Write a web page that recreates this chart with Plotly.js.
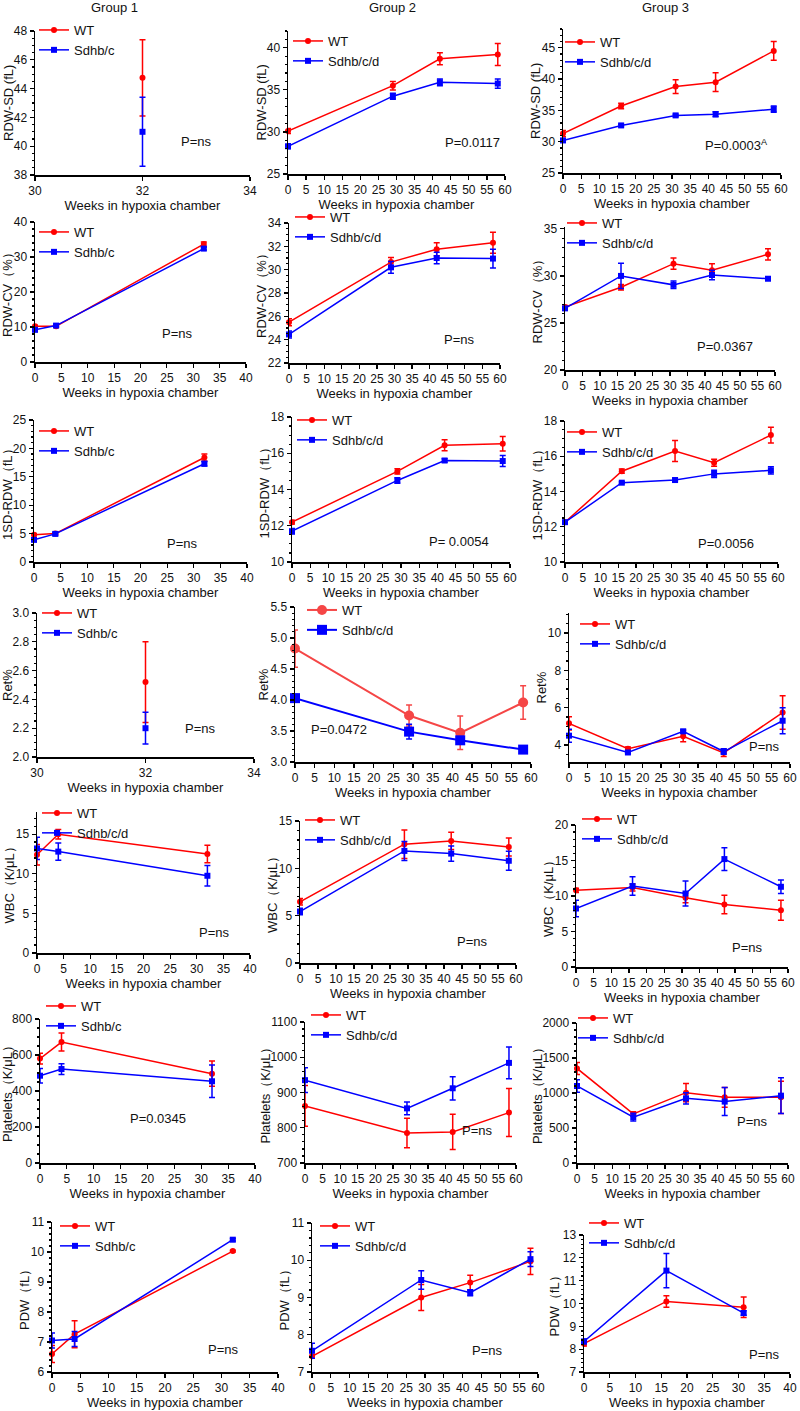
<!DOCTYPE html>
<html>
<head>
<meta charset="utf-8">
<script src="https://cdn.plot.ly/plotly-3.0.1.min.js"></script>
<style>body{margin:0;background:#fff}#chart{width:800px;height:1411px}</style>
</head>
<body>
<div id="chart"></div>
<script>
// weeks in hypoxia chamber
var weeksG1 = [0, 4, 32];
var weeksG1b = [32];
var weeksG2 = [0, 29, 42, 58];
var weeksG3 = [0, 16, 31, 42, 58];
var weeksG3pdw = [0, 16, 31];

// RDW-SD (fL)
var rdwsdG1Wt = [44.75], rdwsdG1WtErr = [2.65];
var rdwsdG1Mut = [41.0], rdwsdG1MutErr = [2.4];
var rdwsdG2Wt = [30.1, 35.5, 38.7, 39.2], rdwsdG2WtErr = [0.3, 0.5, 0.7, 1.3];
var rdwsdG2Mut = [28.3, 34.25, 35.9, 35.75], rdwsdG2MutErr = [0.3, 0.35, 0.4, 0.55];
var rdwsdG3Wt = [31.3, 35.7, 38.8, 39.5, 44.5], rdwsdG3WtErr = [0.5, 0.45, 1.1, 1.5, 1.5];
var rdwsdG3Mut = [30.2, 32.6, 34.2, 34.4, 35.2], rdwsdG3MutErr = [0.2, 0.2, 0.2, 0.4, 0.5];

// RDW-CV (%)
var rdwcvG1Wt = [10.2, 10.2, 33.7], rdwcvG1WtErr = [0.3, 0.3, 0.6];
var rdwcvG1Mut = [9.2, 10.4, 32.4], rdwcvG1MutErr = [0.5, 0.4, 0.4];
var rdwcvG2Wt = [25.5, 30.65, 31.75, 32.3], rdwcvG2WtErr = [0.3, 0.4, 0.55, 0.9];
var rdwcvG2Mut = [24.45, 30.2, 31.0, 30.95], rdwcvG2MutErr = [0.3, 0.5, 0.5, 0.8];
var rdwcvG3Wt = [26.7, 28.8, 31.3, 30.6, 32.3], rdwcvG3WtErr = [0.15, 0.3, 0.6, 0.7, 0.6];
var rdwcvG3Mut = [26.55, 30.0, 29.05, 30.1, 29.7], rdwcvG3MutErr = [0.15, 1.35, 0.4, 0.5, 0.15];

// 1SD-RDW (fL)
var sdrdwG1Wt = [4.8, 5.0, 18.4], sdrdwG1WtErr = [0.2, 0.15, 0.6];
var sdrdwG1Mut = [3.9, 4.95, 17.3], sdrdwG1MutErr = [0.3, 0.3, 0.4];
var sdrdwG2Wt = [12.2, 15.0, 16.44, 16.53], sdrdwG2WtErr = [0.1, 0.15, 0.3, 0.4];
var sdrdwG2Mut = [11.7, 14.5, 15.6, 15.57], sdrdwG2MutErr = [0.15, 0.15, 0.1, 0.3];
var sdrdwG3Wt = [12.26, 15.15, 16.3, 15.63, 17.2], sdrdwG3WtErr = [0.05, 0.12, 0.6, 0.2, 0.45];
var sdrdwG3Mut = [12.26, 14.5, 14.65, 15.0, 15.2], sdrdwG3MutErr = [0.05, 0.05, 0.1, 0.2, 0.2];

// Ret%
var retG1Wt = [2.52], retG1WtErr = [0.28];
var retG1Mut = [2.2], retG1MutErr = [0.11];
var retG2Wt = [4.83, 3.75, 3.47, 3.96], retG2WtErr = [0.3, 0.17, 0.27, 0.27];
var retG2Mut = [4.03, 3.49, 3.35, 3.2], retG2MutErr = [0.06, 0.12, 0.05, 0.03];
var retG3Wt = [5.16, 3.8, 4.47, 3.58, 5.74], retG3WtErr = [0.35, 0.1, 0.3, 0.2, 0.9];
var retG3Mut = [4.5, 3.6, 4.73, 3.65, 5.3], retG3MutErr = [0.35, 0.05, 0.1, 0.15, 0.7];

// WBC (K/uL)
var wbcG1Wt = [12.4, 15.0, 12.5], wbcG1WtErr = [1.3, 0.6, 1.1];
var wbcG1Mut = [13.2, 12.8, 9.75], wbcG1MutErr = [1.4, 1.1, 1.3];
var wbcG2Wt = [6.47, 12.55, 12.9, 12.26], wbcG2WtErr = [0.35, 1.5, 0.9, 0.95];
var wbcG2Mut = [5.44, 11.84, 11.56, 10.8], wbcG2MutErr = [0.35, 1.0, 0.8, 1.0];
var wbcG3Wt = [10.8, 11.2, 9.74, 8.8, 8.0], wbcG3WtErr = [0.3, 0.5, 0.7, 1.3, 1.4];
var wbcG3Mut = [8.24, 11.4, 10.35, 15.2, 11.3], wbcG3MutErr = [1.15, 1.3, 1.75, 1.6, 0.95];

// Platelets (K/uL)
var pltG1Wt = [580, 672, 496], pltG1WtErr = [30, 50, 70];
var pltG1Mut = [485, 522, 454], pltG1MutErr = [40, 30, 90];
var pltG2Wt = [862, 785, 788, 843], pltG2WtErr = [58, 42, 50, 68];
var pltG2Mut = [935, 855, 912, 984], pltG2MutErr = [35, 18, 33, 45];
var pltG3Wt = [1351, 701, 1005, 938, 938], pltG3WtErr = [85, 30, 130, 140, 230];
var pltG3Mut = [1100, 654, 924, 877, 962], pltG3MutErr = [90, 55, 80, 200, 255];

// PDW (fL)
var pdwG1Wt = [6.6, 7.26, 10.03], pdwG1WtErr = [0.28, 0.45, 0.03];
var pdwG1Mut = [7.05, 7.1, 10.41], pdwG1MutErr = [0.25, 0.25, 0.04];
var pdwG2Wt = [7.42, 9.0, 9.4, 9.97], pdwG2WtErr = [0.05, 0.35, 0.2, 0.35];
var pdwG2Mut = [7.57, 9.47, 9.13, 10.03], pdwG2MutErr = [0.2, 0.25, 0.08, 0.2];
var pdwG3Wt = [8.24, 10.09, 9.84], pdwG3WtErr = [0.1, 0.25, 0.45];
var pdwG3Mut = [8.34, 11.44, 9.58], pdwG3MutErr = [0.1, 0.75, 0.1];

var groupNames = ['Group 1', 'Group 2', 'Group 3'];
var pValues = [
  'P=ns', 'P=0.0117', 'P=0.0003<sup>A</sup>',
  'P=ns', 'P=ns', 'P=0.0367',
  'P=ns', 'P= 0.0054', 'P=0.0056',
  'P=ns', 'P=0.0472', 'P=ns',
  'P=ns', 'P=ns', 'P=ns',
  'P=0.0345', 'P=ns', 'P=ns',
  'P=ns', 'P=ns', 'P=ns'
];
var xTitle = 'Weeks in hypoxia chamber';

var W = 800, H = 1411;
var red = 'rgb(255,0,0)', blue = 'rgb(0,0,255)';

// box = [left, right, top, bottom] px, tx = y title centre px, leg = legend first row px, pp = p-value spot (data)
var panels = [
  {x: weeksG1b, wt: rdwsdG1Wt, we: rdwsdG1WtErr, mu: rdwsdG1Mut, me: rdwsdG1MutErr, mn: 'Sdhb/c', yt: 'RDW-SD (fL)',
   box: [35, 250, 31, 175], tx: 8, xr: [30, 34], xd: 2, yr: [38, 48], yd: 2, leg: [48, 31], pp: [33.0, 40.3]},
  {x: weeksG2, wt: rdwsdG2Wt, we: rdwsdG2WtErr, mu: rdwsdG2Mut, me: rdwsdG2MutErr, mn: 'Sdhb/c/d', yt: 'RDW-SD (fL)',
   box: [288, 505, 31, 174], tx: 261, xr: [0, 60], xd: 5, yr: [25, 42], yd: 5, leg: [302, 42], pp: [51, 28.75]},
  {x: weeksG3, wt: rdwsdG3Wt, we: rdwsdG3WtErr, mu: rdwsdG3Mut, me: rdwsdG3MutErr, mn: 'Sdhb/c/d', yt: 'RDW-SD (fL)',
   box: [563, 781, 29, 173], tx: 536, xr: [0, 60], xd: 5, yr: [25, 48], yd: 5, leg: [574, 43], pp: [47.8, 29.5]},

  {x: weeksG1, wt: rdwcvG1Wt, we: rdwcvG1WtErr, mu: rdwcvG1Mut, me: rdwcvG1MutErr, mn: 'Sdhb/c', yt: 'RDW-CV（%）',
   box: [35, 246, 222, 362], tx: 7, xr: [0, 40], xd: 5, yr: [0, 40], yd: 10, leg: [48, 233], pp: [27, 8.1]},
  {x: weeksG2, wt: rdwcvG2Wt, we: rdwcvG2WtErr, mu: rdwcvG2Mut, me: rdwcvG2MutErr, mn: 'Sdhb/c/d', yt: 'RDW-CV（%）',
   box: [289, 500, 223, 363], tx: 261, xr: [0, 60], xd: 5, yr: [22, 34], yd: 2, leg: [304, 218], pp: [48.4, 24]},
  {x: weeksG3, wt: rdwcvG3Wt, we: rdwcvG3WtErr, mu: rdwcvG3Mut, me: rdwcvG3MutErr, mn: 'Sdhb/c/d', yt: 'RDW-CV（%）',
   box: [565, 775, 227, 370], tx: 537, xr: [0, 60], xd: 5, yr: [20, 35.2], yd: 5, leg: [576, 224], pp: [45.8, 22.5]},

  {x: weeksG1, wt: sdrdwG1Wt, we: sdrdwG1WtErr, mu: sdrdwG1Mut, me: sdrdwG1MutErr, mn: 'Sdhb/c', yt: '1SD-RDW（fL）',
   box: [34, 247, 420, 562], tx: 7, xr: [0, 40], xd: 5, yr: [0, 25], yd: 5, leg: [48, 432], pp: [27.8, 3.3]},
  {x: weeksG2, wt: sdrdwG2Wt, we: sdrdwG2WtErr, mu: sdrdwG2Mut, me: sdrdwG2MutErr, mn: 'Sdhb/c/d', yt: '1SD-RDW（fL）',
   box: [292, 510, 417, 562], tx: 264, xr: [0, 60], xd: 5, yr: [10, 18], yd: 2, leg: [306, 421], pp: [46, 11.15]},
  {x: weeksG3, wt: sdrdwG3Wt, we: sdrdwG3WtErr, mu: sdrdwG3Mut, me: sdrdwG3MutErr, mn: 'Sdhb/c/d', yt: '1SD-RDW（fL）',
   box: [565, 778, 421, 562], tx: 537, xr: [0, 60], xd: 5, yr: [10, 18], yd: 2, leg: [576, 433], pp: [45.3, 11.07]},

  {x: weeksG1b, wt: retG1Wt, we: retG1WtErr, mu: retG1Mut, me: retG1MutErr, mn: 'Sdhb/c', yt: 'Ret%',
   box: [37, 254, 613, 757], tx: 8, xr: [30, 34], xd: 2, yr: [2, 3], yd: 0.2, fmt: '.1f', leg: [51, 614], pp: [33.0, 2.2]},
  {x: weeksG2, wt: retG2Wt, we: retG2WtErr, mu: retG2Mut, me: retG2MutErr, mn: 'Sdhb/c/d', yt: 'Ret%',
   box: [295, 531, 607, 762], tx: 263, xr: [0, 60], xd: 5, yr: [3, 5.5], yd: 0.5, fmt: '.1f', leg: [316, 611], pp: [11.3, 3.53], big: true},
  {x: weeksG3, wt: retG3Wt, we: retG3WtErr, mu: retG3Mut, me: retG3MutErr, mn: 'Sdhb/c/d', yt: 'Ret%',
   box: [569, 790, 613, 762], tx: 541, xr: [0, 60], xd: 5, yr: [3.09, 11.07], yd: 2, leg: [589, 625], pp: [53, 3.94]},

  {x: weeksG1, wt: wbcG1Wt, we: wbcG1WtErr, mu: wbcG1Mut, me: wbcG1MutErr, mn: 'Sdhb/c/d', yt: 'WBC（K/μL）',
   box: [37, 250, 812, 953], tx: 9, xr: [0, 40], xd: 5, yr: [0, 17.8], yd: 5, leg: [51, 814], pp: [33.3, 2.6]},
  {x: weeksG2, wt: wbcG2Wt, we: wbcG2WtErr, mu: wbcG2Mut, me: wbcG2MutErr, mn: 'Sdhb/c/d', yt: 'WBC（K/μL）',
   box: [300, 516, 821, 963], tx: 272, xr: [0, 60], xd: 5, yr: [0, 15], yd: 5, leg: [314, 821], pp: [47.7, 2.28]},
  {x: weeksG3, wt: wbcG3Wt, we: wbcG3WtErr, mu: wbcG3Mut, me: wbcG3MutErr, mn: 'Sdhb/c/d', yt: 'WBC（K/μL）',
   box: [576, 788, 825, 967], tx: 548, xr: [0, 60], xd: 5, yr: [0, 20], yd: 5, leg: [591, 820], pp: [48.5, 2.8]},

  {x: weeksG1, wt: pltG1Wt, we: pltG1WtErr, mu: pltG1Mut, me: pltG1MutErr, mn: 'Sdhb/c', yt: 'Platelets（K/μL）',
   box: [40, 255, 1019, 1163], tx: 7, xr: [0, 40], xd: 5, yr: [0, 800], yd: 200, leg: [55, 1007], pp: [22, 250]},
  {x: weeksG2, wt: pltG2Wt, we: pltG2WtErr, mu: pltG2Mut, me: pltG2MutErr, mn: 'Sdhb/c/d', yt: 'Platelets（K/μL）',
   box: [305, 516, 1022, 1163], tx: 265, xr: [0, 60], xd: 5, yr: [700, 1100], yd: 100, leg: [320, 1016], pp: [48.8, 792]},
  {x: weeksG3, wt: pltG3Wt, we: pltG3WtErr, mu: pltG3Mut, me: pltG3MutErr, mn: 'Sdhb/c/d', yt: 'Platelets（K/μL）',
   box: [577, 788, 1023, 1163], tx: 537, xr: [0, 60], xd: 5, yr: [0, 2000], yd: 500, leg: [587, 1019], pp: [49.9, 592]},

  {x: weeksG1, wt: pdwG1Wt, we: pdwG1WtErr, mu: pdwG1Mut, me: pdwG1MutErr, mn: 'Sdhb/c', yt: 'PDW（fL）',
   box: [52, 278, 1222, 1372], tx: 24, xr: [0, 40], xd: 5, yr: [6, 11], yd: 1, leg: [69, 1227], pp: [30.2, 6.74]},
  {x: weeksG2, wt: pdwG2Wt, we: pdwG2WtErr, mu: pdwG2Mut, me: pdwG2MutErr, mn: 'Sdhb/c/d', yt: 'PDW（fL）',
   box: [312, 538, 1223, 1372], tx: 284, xr: [0, 60], xd: 5, yr: [7, 11], yd: 1, leg: [329, 1227], pp: [46.5, 7.57]},
  {x: weeksG3pdw, wt: pdwG3Wt, we: pdwG3WtErr, mu: pdwG3Mut, me: pdwG3MutErr, mn: 'Sdhb/c/d', yt: 'PDW（fL）',
   box: [584, 790, 1235, 1372], tx: 554, xr: [0, 40], xd: 5, yr: [7, 13], yd: 1, leg: [598, 1224], pp: [35, 7.76]}
];

var data = [];
var layout = {
  width: W,
  height: H,
  margin: {l: 0, r: 0, t: 0, b: 0},
  paper_bgcolor: 'white',
  plot_bgcolor: 'white',
  font: {family: 'Liberation Sans, Arial, sans-serif', size: 12, color: '#111'},
  showlegend: true,
  annotations: []
};

panels.forEach(function (p, i) {
  var sfx = i === 0 ? '' : String(i + 1);
  var legId = 'legend' + sfx;
  var wtCol = p.big ? 'rgb(245,70,70)' : red;
  var msize = p.big ? 10 : 6;
  var lw = p.big ? 2 : 1.5;

  data.push({
    type: 'scatter', mode: 'lines+markers', name: 'WT',
    x: p.x, y: p.wt, xaxis: 'x' + sfx, yaxis: 'y' + sfx, legend: legId, cliponaxis: false,
    line: {color: wtCol, width: lw},
    marker: {symbol: 'circle', size: msize, color: wtCol},
    error_y: {type: 'data', array: p.we, color: wtCol, thickness: 1.5, width: 3}
  });
  data.push({
    type: 'scatter', mode: 'lines+markers', name: p.mn,
    x: p.x, y: p.mu, xaxis: 'x' + sfx, yaxis: 'y' + sfx, legend: legId, cliponaxis: false,
    line: {color: blue, width: lw},
    marker: {symbol: 'square', size: msize, color: blue},
    error_y: {type: 'data', array: p.me, color: blue, thickness: 1.5, width: 3}
  });

  layout['xaxis' + sfx] = {
    domain: [p.box[0] / W, p.box[1] / W],
    anchor: 'y' + sfx,
    range: p.xr, tick0: p.xr[0], dtick: p.xd,
    showgrid: false, zeroline: false,
    showline: true, linecolor: '#000', linewidth: 1.5,
    ticks: 'outside', ticklen: 4, tickwidth: 1.2, tickcolor: '#000',
    tickfont: {size: 12, color: '#111'},
    title: {text: xTitle, font: {size: 13, color: '#111'}, standoff: i < 3 ? 0 : 4}
  };
  layout['yaxis' + sfx] = {
    domain: [1 - p.box[3] / H, 1 - p.box[2] / H],
    anchor: 'x' + sfx,
    range: p.yr, tick0: 0, dtick: p.yd, tickformat: p.fmt || '',
    showgrid: false, zeroline: false,
    showline: true, linecolor: '#000', linewidth: 1.5,
    ticks: 'outside', ticklen: 4, tickwidth: 1.2, tickcolor: '#000',
    minor: {ticks: 'outside', ticklen: 2, tickcolor: '#000', showgrid: false},
    tickfont: {size: 12, color: '#111'}
  };
  layout[legId] = {
    x: (p.leg[0] - 14) / W,
    y: 1 - (p.leg[1] - 16) / H,
    xanchor: 'left', yanchor: 'top',
    bgcolor: 'rgba(0,0,0,0)',
    font: {size: 13, color: '#111'},
    tracegroupgap: 0
  };
  // y axis title, placed beside the tick labels
  layout.annotations.push({
    xref: 'paper', yref: 'paper',
    x: p.tx / W, y: 1 - (p.box[2] + p.box[3]) / 2 / H,
    text: p.yt, textangle: -90, showarrow: false,
    xanchor: 'center', yanchor: 'middle',
    font: {size: 13, color: '#111'}
  });
  layout.annotations.push({
    xref: 'x' + sfx, yref: 'y' + sfx, x: p.pp[0], y: p.pp[1],
    text: pValues[i], showarrow: false, font: {size: 13, color: '#111'}
  });
});

// column headers
[115, 392, 665].forEach(function (cx, k) {
  layout.annotations.push({
    xref: 'paper', yref: 'paper', x: cx / W, y: 1 - 7 / H,
    xanchor: 'center', yanchor: 'middle',
    text: groupNames[k], showarrow: false, font: {size: 13, color: '#111'}
  });
});

Plotly.newPlot('chart', data, layout, {displayModeBar: false, staticPlot: true});
</script>
</body>
</html>
